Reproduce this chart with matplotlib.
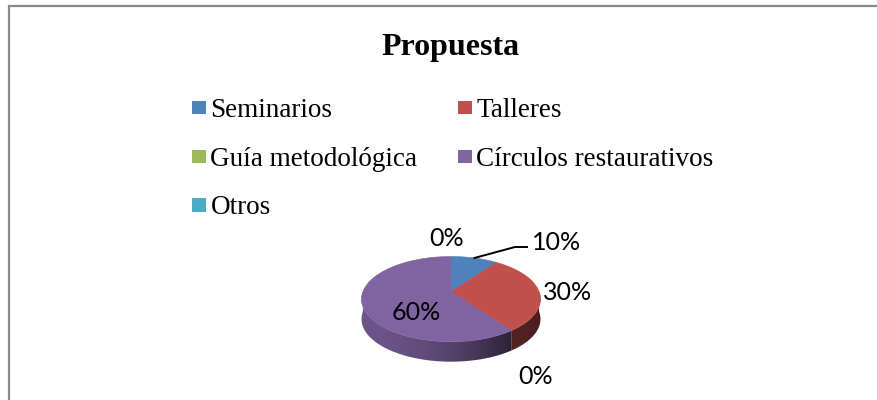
import numpy as np
import matplotlib
matplotlib.use("Agg")
import matplotlib.pyplot as plt
from matplotlib.patches import Polygon, Rectangle
from matplotlib.colors import to_rgb

# ---- data -------------------------------------------------------------
title = "Propuesta"
categories = ["Seminarios", "Talleres", "Guía metodológica",
              "Círculos restaurativos", "Otros"]
values = [10, 30, 0, 60, 0]          # percent
colors = ["#4F81BD", "#C0504D", "#9BBB59", "#8064A2", "#4BACC6"]

# ---- canvas in pixel coordinates --------------------------------------
W, H = 878, 400
fig = plt.figure(figsize=(W / 100, H / 100), dpi=100)
ax = fig.add_axes([0, 0, 1, 1])
ax.set_xlim(0, W)
ax.set_ylim(H, 0)
ax.axis("off")

# chart frame (left and top edges visible)
ax.plot([9, 9, W + 5], [H + 5, 6, 6], color="#8a8a8a", lw=1.6,
        solid_joinstyle="miter", zorder=1)

serif = "Liberation Serif"
sans = ["Lato", "DejaVu Sans"]

ax.text(451, 48, title, ha="center", va="center", fontsize=23,
        fontweight="bold", family=serif)

# ---- legend -------------------------------------------------------------
leg_cols = [199, 465]
leg_rows = [107.5, 156.5, 205]
sq = 13.5
for i, (name, col) in enumerate(zip(categories, colors)):
    cx = leg_cols[i % 2]
    cy = leg_rows[i // 2]
    ax.add_patch(Rectangle((cx - sq / 2, cy - sq / 2), sq, sq,
                           facecolor=col, edgecolor="none"))
    ax.text(cx + 11.5, cy + 9.3, name, ha="left", va="baseline",
            fontsize=19.5, family=serif)

# ---- 3D perspective pie --------------------------------------------------
pcx, pcy = 451.0, 291.7      # projected centre of the top face
A, B, k = 88.1, 41.3, 0.1737  # horizontal / vertical radius, perspective
depth = 20.0


def proj(theta_deg, r=1.0):
    t = np.radians(theta_deg)
    u = r * np.cos(t)
    v = r * np.sin(t)
    d = 1 + k * v
    return pcx + A * u / d, pcy - B * v / d


total = float(sum(values))
bounds = []
cum = 0.0
for v in values:
    a0 = 90 - 360 * cum / total
    cum += v
    a1 = 90 - 360 * cum / total
    bounds.append((a0, a1))

# brightness of each side wall at its left and right end
side_light = {"#C0504D": (0.43, 0.37), "#8064A2": (0.84, 0.33)}

# side walls (front half only), filled with a horizontal gradient
for (a0, a1), v, col in zip(bounds, values, colors):
    if v == 0:
        continue
    lo, hi = a1, a0
    segs = []
    for off in (-360, 0, 360):
        s0 = max(lo + off, -180)
        s1 = min(hi + off, 0)
        if s1 > s0:
            segs.append((s0, s1))
    f0, f1 = side_light.get(col, (0.7, 0.4))
    base = np.array(to_rgb(col))
    for s0, s1 in segs:
        th = np.linspace(s0, s1, 200)
        top = [proj(t) for t in th]
        bottom = [(x, y + depth) for x, y in top[::-1]]
        poly = Polygon(top + bottom, closed=True, facecolor="none",
                       edgecolor="none", zorder=2)
        ax.add_patch(poly)
        xs = [p[0] for p in top]
        ys = [p[1] for p in top]
        xmin, xmax = min(xs) - 1, max(xs) + 1
        ymin, ymax = min(ys) - 1, max(ys) + depth + 1
        s = np.linspace(0, 1, 256)
        f = f0 - (f0 - f1) * s ** 2
        grad = np.clip(f[None, :, None] * base[None, None, :], 0, 1)
        grad = np.repeat(grad, 2, axis=0)
        im = ax.imshow(grad, extent=(xmin, xmax, ymax, ymin),
                       aspect="auto", interpolation="bilinear", zorder=2)
        im.set_clip_path(poly)

ax.set_xlim(0, W)
ax.set_ylim(H, 0)

# top face
for (a0, a1), v, col in zip(bounds, values, colors):
    if v == 0:
        continue
    th = np.linspace(a0, a1, max(3, int(abs(a0 - a1) * 2)))
    pts = [(pcx, pcy)] + [proj(t) for t in th]
    ax.add_patch(Polygon(pts, closed=True, facecolor=col, edgecolor=col,
                         lw=0.4, zorder=3))

# ---- data labels ----------------------------------------------------------
label_xy = [(557, 242), (568, 292), (536, 377), (416, 312), (447, 239)]
for (lx, ly), v in zip(label_xy, values):
    ax.text(lx, ly, f"{v}%", ha="center", va="center", fontsize=18,
            family=sans, color="black", zorder=5)

# leader line for the first slice
a0, a1 = bounds[0]
sx, sy = proj((a0 + a1) / 2)
ax.plot([sx, 515, 527], [sy, 247, 247], color="black", lw=1.4, zorder=4)

fig.savefig("out.png", dpi=100)
